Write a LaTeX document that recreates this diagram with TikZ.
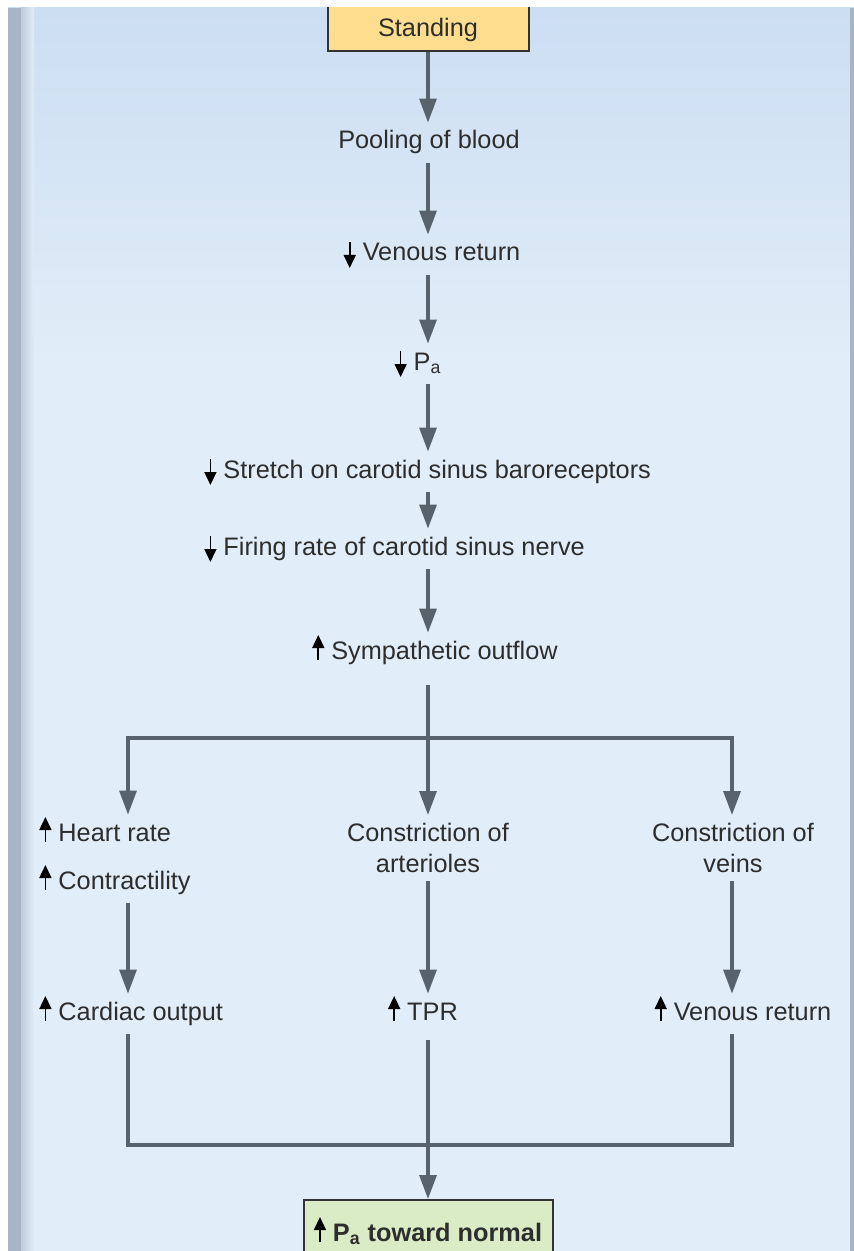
\documentclass[tikz,border=0pt]{standalone}
\usepackage{fontspec}
\setmainfont{Liberation Sans}
\usetikzlibrary{arrows.meta}

\definecolor{panelTop}{RGB}{204,222,242}
\definecolor{panelBg}{RGB}{225,237,248}
\definecolor{edgeGrey}{RGB}{168,181,199}
\definecolor{flowGrey}{RGB}{88,98,108}
\definecolor{inkGrey}{RGB}{45,45,45}
\definecolor{startFill}{RGB}{253,222,142}
\definecolor{endFill}{RGB}{217,236,197}

% small up / down marks set in front of a text
\newcommand{\incr}{\tikz[baseline=0pt]\draw[black, line width=0.8pt, -{Triangle[width=6pt,length=6.5pt]}] (0pt,-0.5pt) -- (0pt,12pt);}
\newcommand{\decr}{\tikz[baseline=0pt]\draw[black, line width=0.8pt, -{Triangle[width=6pt,length=6.5pt]}] (0pt,9.5pt) -- (0pt,-3.5pt);}

\tikzset{
  flow/.style={draw=flowGrey, line width=1.6pt, -{Triangle[width=8.5pt,length=12pt]}},
  link/.style={draw=flowGrey, line width=1.6pt},
  stage/.style={text=inkGrey, inner xsep=0pt, inner ysep=4pt, text height=9pt, text depth=3pt},
  twoline/.style={text=inkGrey, inner xsep=0pt, inner ysep=4pt, align=center},
  startbox/.style={draw=black!80, line width=1pt, fill=startFill, text=inkGrey,
    text height=12pt, text depth=3pt, inner ysep=4.25pt, minimum width=100.5pt},
  endbox/.style={draw=black!80, line width=1pt, fill=endFill, text=inkGrey,
    text height=12pt, text depth=3pt, inner ysep=8.5pt, minimum width=124.5pt, font=\fontsize{12.65}{15.5}\selectfont\bfseries}
}

\begin{document}
\begin{tikzpicture}[x=0.5pt, y=-0.5pt, font=\fontsize{12.65}{15.5}\selectfont]
  \useasboundingbox (0,0) rectangle (854,1251);
  % panel background
  \fill[panelBg] (8,8) rectangle (854,1251);
  \shade[top color=panelTop, bottom color=panelBg] (8,8) rectangle (854,360);
  \shade[left color=edgeGrey!60!panelBg, right color=panelBg] (21,8) rectangle (34,1251);
  \fill[edgeGrey] (8,8) rectangle (21,1251);
  \fill[edgeGrey] (850,8) rectangle (854,1251);
  \clip (8,8) rectangle (854,1251);

  \coordinate (spine) at (428,0);
  \coordinate (lcol) at (128,0);
  \coordinate (rcol) at (732,0);
  \coordinate (split) at (428,738);
  \coordinate (merge) at (428,1145);

  % main chain
  \node[startbox, anchor=south] (stand) at (428,52) {Standing};
  \node[stage, anchor=base] (pool) at (429,149) {Pooling of blood};
  \node[stage, anchor=base] (venous) at (432,261) {\decr\ Venous return};
  \node[stage, anchor=base] (pa) at (418,370) {\decr\ P\textsubscript{a}};
  \node[stage, anchor=base west] (stretch) at (204,478) {\decr\ Stretch on carotid sinus baroreceptors};
  \node[stage, anchor=base west] (firing) at (204,555) {\decr\ Firing rate of carotid sinus nerve};
  \node[stage, anchor=base] (symp) at (435,659) {\incr\ Sympathetic outflow};

  % three branches
  \node[stage, anchor=base west] (hr) at (39,841) {\incr\ Heart rate};
  \node[stage, anchor=base west] (ctr) at (39,889) {\incr\ Contractility};
  \node[twoline, anchor=north] (art) at (428,815) {Constriction of\\arterioles};
  \node[twoline, anchor=north] (vein) at (733,815) {Constriction of\\veins};
  \node[stage, anchor=base west] (co) at (39,1020) {\incr\ Cardiac output};
  \node[stage, anchor=base] (tpr) at (423,1020) {\incr\ TPR};
  \node[stage, anchor=base] (vr) at (743,1020) {\incr\ Venous return};

  \node[endbox, anchor=north] (final) at (428,1199) {\incr\ P\textsubscript{a} toward normal};

  \draw[flow] (stand.south -| spine) -- (pool.north -| spine);
  \draw[flow] (pool.south -| spine) -- (venous.north -| spine);
  \draw[flow] (venous.south -| spine) -- (pa.north -| spine);
  \draw[flow] (pa.south -| spine) -- (stretch.north -| spine);
  \draw[flow] (stretch.south -| spine) -- (firing.north -| spine);
  \draw[flow] (firing.south -| spine) -- (symp.north -| spine);

  \draw[flow, shorten <=6pt] (symp.south -| spine) -- (art.north);
  \draw[flow] (split) -| (hr.north -| lcol);
  \draw[flow] (split) -| (vein.north -| rcol);

  \draw[flow] (ctr.south -| lcol) -- (co.north -| lcol);
  \draw[flow] (art.south) -- (art.south |- tpr.north);
  \draw[flow] (vein.south -| rcol) -- (vr.north -| rcol);

  \draw[link] (co.south -| lcol) |- (merge);
  \draw[link] (vr.south -| rcol) |- (merge);
  \draw[flow, shorten <=3pt] (tpr.south -| spine) -- (final.north);
\end{tikzpicture}
\end{document}
